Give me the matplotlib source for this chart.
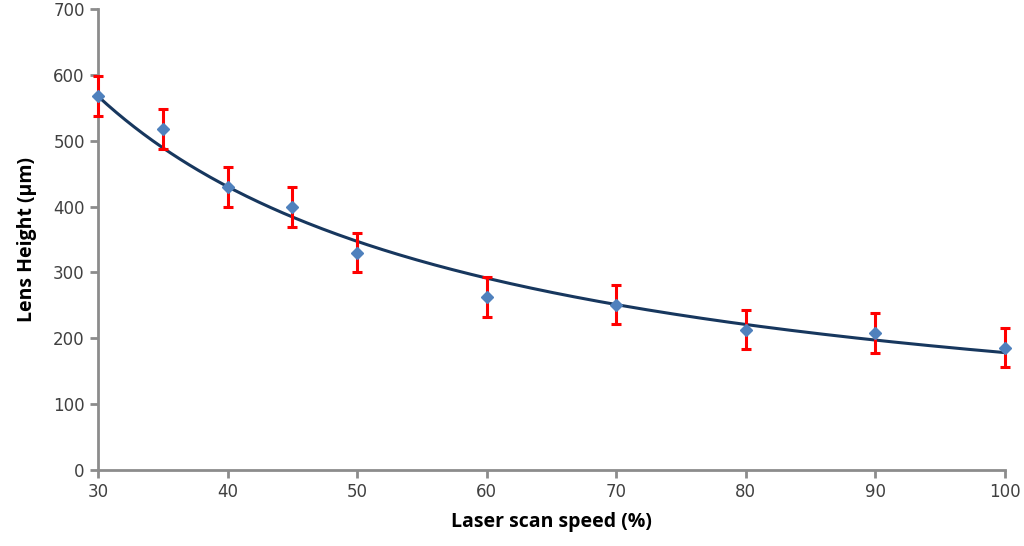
import numpy as np
import matplotlib
matplotlib.use("Agg")
import matplotlib.pyplot as plt

speed = [30, 35, 40, 45, 50, 60, 70, 80, 90, 100]
height = [568, 518, 430, 399, 330, 263, 251, 213, 208, 186]
err = [30, 30, 30, 30, 30, 30, 30, 30, 30, 30]
x_ticks = [30, 40, 50, 60, 70, 80, 90, 100]
y_ticks = [0, 100, 200, 300, 400, 500, 600, 700]

fig = plt.figure(figsize=(10.24, 5.46), dpi=100)
ax = fig.add_axes([98/1024, 1 - 470/546, (1005-98)/1024, (470-9)/546])

# power-law trendline fitted to the data
b, loga = np.polyfit(np.log(speed), np.log(height), 1)
xs = np.linspace(30, 100, 300)
ax.plot(xs, np.exp(loga) * xs ** b, color="#17375E", lw=2.2, zorder=2,
        clip_on=False)

eb = ax.errorbar(speed, height, yerr=err, fmt="none", ecolor="#FF0000",
                 elinewidth=2.2, capsize=3.5, capthick=2.2, zorder=3)
for art in eb.lines[1] + eb.lines[2]:
    art.set_clip_on(False)
ax.plot(speed, height, linestyle="none", marker="D", markersize=6.5,
        color="#4F81BD", zorder=4, clip_on=False)

ax.set_xlim(30, 100)
ax.set_ylim(0, 700)
ax.set_xticks(x_ticks)
ax.set_yticks(y_ticks)
for s in ["top", "right"]:
    ax.spines[s].set_visible(False)
for s in ["left", "bottom"]:
    ax.spines[s].set_color("#8C8C8C")
    ax.spines[s].set_linewidth(2)
ax.tick_params(colors="#8C8C8C", width=2, length=6, labelcolor="#404040",
               labelsize=12)
ax.set_xlabel("Laser scan speed (%)", fontsize=14, fontweight="bold",
              family="Open Sans", labelpad=8)
ax.set_ylabel("Lens Height (µm)", fontsize=14, fontweight="bold",
              family="Open Sans", labelpad=12)

fig.savefig("out.png", dpi=100)
